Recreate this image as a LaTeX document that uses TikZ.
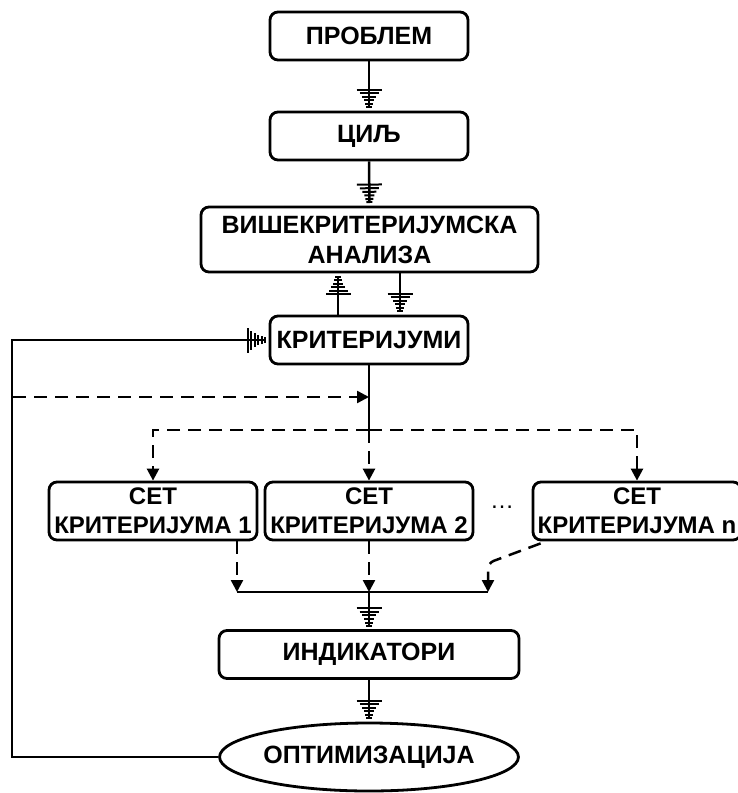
\documentclass[tikz,border=0pt]{standalone}
\usepackage{fontspec}
\setmainfont{Liberation Sans}
\usetikzlibrary{arrows.meta,shapes.geometric,calc}

%% stacked-bar arrow tip
\pgfdeclarearrow{
  name = Gnd,
  setup code = {
    \pgfarrowssettipend{0pt}
    \pgfarrowssetlineend{0pt}
    \pgfarrowssetbackend{-19pt}
    \pgfarrowssetvisualbackend{-19pt}
    \pgfarrowsupperhullpoint{-19pt}{12.5pt}
    \pgfarrowsupperhullpoint{0pt}{3pt}
  },
  drawing code = {
    \pgfsetlinewidth{2pt}
    \pgfsetbuttcap
    \pgfpathmoveto{\pgfqpoint{-18pt}{-12.5pt}}\pgfpathlineto{\pgfqpoint{-18pt}{12.5pt}}
    \pgfpathmoveto{\pgfqpoint{-14.4pt}{-9.5pt}}\pgfpathlineto{\pgfqpoint{-14.4pt}{9.5pt}}
    \pgfpathmoveto{\pgfqpoint{-10.8pt}{-7pt}}\pgfpathlineto{\pgfqpoint{-10.8pt}{7pt}}
    \pgfpathmoveto{\pgfqpoint{-7.2pt}{-5pt}}\pgfpathlineto{\pgfqpoint{-7.2pt}{5pt}}
    \pgfpathmoveto{\pgfqpoint{-3.6pt}{-4pt}}\pgfpathlineto{\pgfqpoint{-3.6pt}{4pt}}
    \pgfpathmoveto{\pgfqpoint{-0.6pt}{-3pt}}\pgfpathlineto{\pgfqpoint{-0.6pt}{3pt}}
    \pgfusepathqstroke
  }
}

\begin{document}
\begin{tikzpicture}[x=1pt,y=-1pt,line width=2.5pt,
    blok/.style={draw,line width=2.8pt,rounded corners=8pt,align=center,inner sep=0pt,
      font=\fontsize{25}{30}\selectfont\bfseries},
    setblok/.style={blok,minimum width=208pt,minimum height=58pt,
      font=\fontsize{24}{29}\selectfont\bfseries},
    gnd/.style={-Gnd,shorten >=3pt},
    crta/.style={dash pattern=on 13pt off 8pt,-{Triangle[length=12pt,width=12pt]}}]
  \useasboundingbox (0,0) rectangle (738,793);

  %% Main chain
  \node[blok,minimum width=198pt,minimum height=48pt] (problem) at (369,36) {ПРОБЛЕМ};
  \node[blok,minimum width=198pt,minimum height=48pt] (cilj) at (369,136) {ЦИЉ};
  \node[blok,minimum width=337pt,minimum height=65pt] (analiza) at (369.5,239.5)
        {ВИШЕКРИТЕРИЈУМСКА\\АНАЛИЗА};
  \node[blok,minimum width=198pt,minimum height=48pt] (kriterijumi) at (369,340) {КРИТЕРИЈУМИ};

  \draw[gnd] (problem.south) -- (cilj.north);
  \draw[gnd] (cilj.south) -- (analiza.north);
  \draw[gnd] ([xshift=-31pt]kriterijumi.north) -- ([xshift=-31pt]kriterijumi.north |- analiza.south);
  \draw[gnd] ([xshift=31pt]kriterijumi.north |- analiza.south) -- ([xshift=31pt]kriterijumi.north);

  %% Sets of criteria
  \node[setblok] (set1) at (153,511) {СЕТ\\КРИТЕРИЈУМА 1};
  \node[setblok] (set2) at (369,511) {СЕТ\\КРИТЕРИЈУМА 2};
  \node[setblok] (setn) at (637,511) {СЕТ\\КРИТЕРИЈУМА n};
  \node[font=\fontsize{24}{28}\selectfont] (tacke) at (502,507) {\dots};

  \coordinate (grana) at (369,430);
  \coordinate (ulaz) at (13,397);
  \draw (kriterijumi.south) -- (grana);
  \draw[crta] (ulaz) -- (ulaz -| grana);
  \draw[crta] (grana) -| (set1.north);
  \draw[crta] (grana) -- (set2.north);
  \draw[crta] (grana) -| (setn.north);

  %% Joining line
  \coordinate (spoj1) at (237,592);
  \coordinate (spoj2) at (369,592);
  \coordinate (spojn) at (488,592);
  \coordinate (lom) at (488,563);
  \draw (spoj1) -- (spojn);
  \draw[crta] (set1.south -| spoj1) -- (spoj1);
  \draw[crta] (set2.south) -- (spoj2);
  \draw[crta,rounded corners=6pt] ([xshift=9pt,yshift=-2pt]setn.south west) -- (lom) -- (spojn);

  %% Indicators and optimisation
  \node[blok,minimum width=300pt,minimum height=48pt] (ind) at (369,654.5) {ИНДИКАТОРИ};
  \node[draw,ellipse,line width=2.8pt,minimum width=232pt,minimum height=68pt,inner sep=0pt,
        font=\fontsize{25}{30}\selectfont\bfseries] (opt) at (369,757) {ОПТИМИЗАЦИЈА};
  \draw[gnd] (spoj2) -- (ind.north);
  \draw[gnd] (ind.south) -- (opt.north);

  %% Feedback loop
  \coordinate (povrat) at (12,500);
  \draw[gnd] (opt.west) -| (povrat) |- (kriterijumi.west);
\end{tikzpicture}
\end{document}
